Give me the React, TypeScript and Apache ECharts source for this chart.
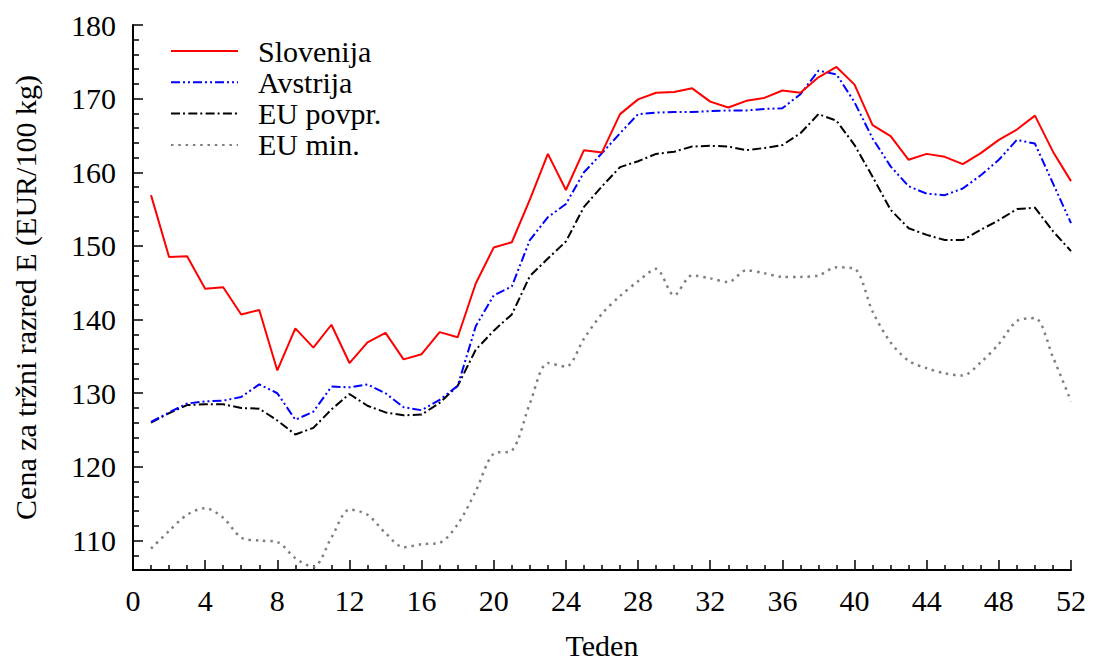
import React, { useEffect, useRef } from "react";
import * as echarts from "echarts";

const weeks = [
  1, 2, 3, 4, 5, 6, 7, 8, 9, 10, 11, 12, 13, 14, 15, 16, 17, 18, 19, 20, 21, 22, 23, 24, 25, 26,
  27, 28, 29, 30, 31, 32, 33, 34, 35, 36, 37, 38, 39, 40, 41, 42, 43, 44, 45, 46, 47, 48, 49, 50, 51, 52,
];

const slovenija = [
  156.9, 148.5, 148.6, 144.2, 144.4, 140.7, 141.3, 133.1, 138.8, 136.2, 139.3, 134.1, 136.9,
  138.2, 134.6, 135.3, 138.3, 137.6, 144.9, 149.8, 150.5, 156.3, 162.5, 157.6, 163.0, 162.7,
  167.9, 169.9, 170.8, 170.9, 171.4, 169.6, 168.8, 169.7, 170.1, 171.1, 170.8, 172.9, 174.3,
  171.9, 166.4, 164.9, 161.7, 162.5, 162.1, 161.1, 162.6, 164.4, 165.8, 167.7, 162.8, 158.8,
];

const avstrija = [
  126.1, 127.4, 128.6, 128.9, 129.0, 129.5, 131.2, 130.0, 126.4, 127.5, 130.9, 130.8, 131.2,
  130.0, 128.1, 127.7, 129.1, 131.0, 139.1, 143.3, 144.5, 150.8, 153.9, 155.7, 160.0, 162.6,
  165.3, 167.9, 168.1, 168.2, 168.2, 168.3, 168.4, 168.4, 168.6, 168.7, 170.6, 173.8, 173.3,
  169.5, 164.6, 160.8, 158.1, 157.1, 156.9, 157.8, 159.6, 161.7, 164.4, 163.9, 158.5, 153.1,
];

const euPovpr = [
  126.0, 127.3, 128.4, 128.5, 128.5, 128.0, 127.9, 126.3, 124.4, 125.3, 127.8, 129.9, 128.3,
  127.4, 127.0, 127.1, 128.7, 131.0, 135.9, 138.5, 140.7, 145.9, 148.3, 150.6, 155.3, 158.1,
  160.7, 161.5, 162.5, 162.8, 163.5, 163.6, 163.5, 163.0, 163.3, 163.7, 165.3, 167.9, 167.0,
  163.7, 159.4, 154.9, 152.4, 151.5, 150.8, 150.8, 152.2, 153.5, 155.0, 155.2, 152.0, 149.3,
];

const euMin = [
  108.9, 111.3, 113.5, 114.4, 113.1, 110.4, 110.0, 109.8, 107.6, 106.4, 110.4, 114.2, 113.5,
  111.0, 109.1, 109.5, 109.7, 112.2, 116.7, 121.8, 122.2, 128.6, 134.1, 133.6, 137.4, 140.8,
  143.2, 145.2, 146.9, 143.3, 146.0, 145.6, 145.1, 146.7, 146.3, 145.8, 145.8, 146.0, 147.1,
  146.9, 141.1, 136.9, 134.4, 133.4, 132.7, 132.4, 134.2, 136.7, 139.8, 140.2, 134.9, 128.9,
];

const seriesNames = ["Slovenija", "Avstrija", "EU povpr.", "EU min."];

const yMajorTicks = [110, 120, 130, 140, 150, 160, 170, 180];
const yMinorTicks = [
  108, 112, 114, 116, 118, 122, 124, 126, 128, 132, 134, 136, 138, 142, 144, 146, 148, 152, 154,
  156, 158, 162, 164, 166, 168, 172, 174, 176, 178,
];

const xTitle = "Teden";
const yTitle = "Cena za tržni razred E (EUR/100 kg)";

const FONT = "Liberation Serif";

export default function App() {
  const ref = useRef<HTMLDivElement>(null);

  useEffect(() => {
    if (!ref.current) return;
    const chart = echarts.init(ref.current, undefined, { renderer: "svg" });
    const toPairs = (arr: number[]) => weeks.map((w, i) => [w, arr[i]]);
    const axisLineStyle = { color: "#000", width: 2 };
    const tickStyle = { color: "#000", width: 1.5 };
    const textBase = { color: "#000", fontFamily: FONT, fontSize: 30 };

    chart.setOption({
      animation: false,
      backgroundColor: "#fff",
      textStyle: { fontFamily: FONT },
      grid: {
        left: 133,
        right: 24,
        top: 25,
        bottom: 91,
        containLabel: false,
        outerBoundsMode: "none",
      },
      legend: {
        show: true,
        data: seriesNames,
        orient: "vertical",
        left: 170,
        top: 36,
        padding: 0,
        itemWidth: 67,
        itemHeight: 14,
        itemGap: 1.3,
        itemStyle: { color: "rgba(0,0,0,0)", borderWidth: 0, opacity: 0 },
        textStyle: { ...textBase, lineHeight: 30, padding: [0, 0, 0, 15] },
        selectedMode: false,
      },
      xAxis: {
        type: "value",
        min: 0,
        max: 52,
        interval: 4,
        axisLine: { show: true, onZero: false, lineStyle: axisLineStyle },
        axisTick: { show: true, inside: true, length: 10, lineStyle: tickStyle },
        minorTick: { show: true, splitNumber: 4, length: 5, lineStyle: tickStyle },
        axisLabel: { ...textBase, margin: 15 },
        splitLine: { show: false },
        minorSplitLine: { show: false },
        name: xTitle,
        nameLocation: "middle",
        nameGap: 65,
        nameTextStyle: { ...textBase, lineHeight: 20 },
      },
      yAxis: [
        {
          type: "value",
          min: 106,
          max: 180,
          position: "left",
          axisLine: { show: true, onZero: false, lineStyle: axisLineStyle },
          axisTick: {
            show: true,
            inside: true,
            length: 10,
            customValues: yMajorTicks,
            lineStyle: tickStyle,
          },
          axisLabel: { ...textBase, margin: 17, customValues: yMajorTicks },
          splitLine: { show: false },
          name: yTitle,
          nameLocation: "middle",
          nameRotate: 90,
          nameGap: 93,
          nameTextStyle: textBase,
        },
        {
          type: "value",
          min: 106,
          max: 180,
          position: "left",
          offset: 0,
          axisLine: { show: false },
          axisTick: {
            show: true,
            inside: true,
            length: 6,
            customValues: yMinorTicks,
            lineStyle: tickStyle,
          },
          axisLabel: { show: false },
          splitLine: { show: false },
        },
      ],
      series: [
        {
          name: seriesNames[0],
          type: "line",
          data: toPairs(slovenija),
          symbol: "none",
          lineStyle: { color: "#ff0000", width: 2, type: "solid" },
          itemStyle: { color: "#ff0000" },
          z: 5,
        },
        {
          name: seriesNames[1],
          type: "line",
          data: toPairs(avstrija),
          symbol: "none",
          lineStyle: { color: "#0000ff", width: 2, type: [9, 3, 2, 3, 2, 3] },
          itemStyle: { color: "#0000ff" },
          z: 4,
        },
        {
          name: seriesNames[2],
          type: "line",
          data: toPairs(euPovpr),
          symbol: "none",
          lineStyle: { color: "#000000", width: 2, type: [9, 3, 2, 3.3] },
          itemStyle: { color: "#000000" },
          z: 3,
        },
        {
          name: seriesNames[3],
          type: "line",
          data: toPairs(euMin),
          symbol: "none",
          smooth: 0.3,
          lineStyle: { color: "#7f7f7f", width: 2.5, type: [2.5, 4.8] },
          itemStyle: { color: "#7f7f7f" },
          z: 2,
        },
      ],
    });

    return () => {
      chart.dispose();
    };
  }, []);

  return (
    <div
      ref={ref}
      style={{
        position: "fixed",
        left: 0,
        top: 0,
        width: 1095,
        height: 661,
        background: "#fff",
      }}
    />
  );
}
